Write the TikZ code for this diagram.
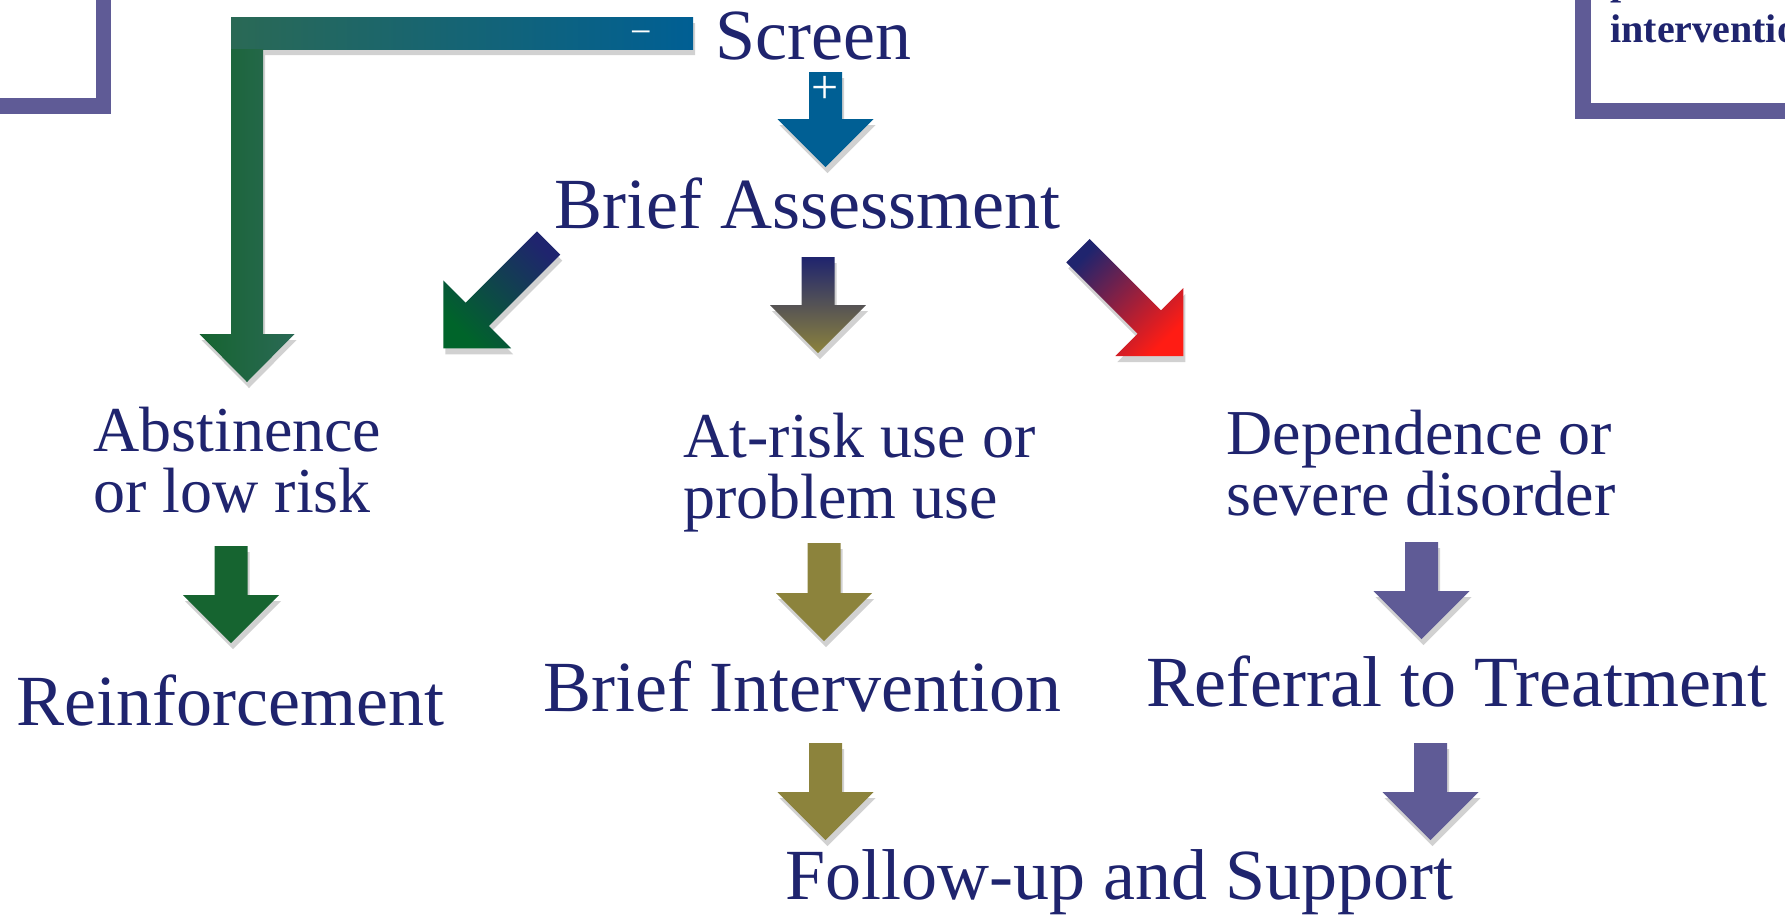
\documentclass[tikz,border=0pt]{standalone}
\usepackage{fontspec}
\setmainfont{Liberation Serif}
\usepackage{tikz}

\definecolor{navy}{RGB}{31,36,110}
\definecolor{frame}{RGB}{95,91,150}
\definecolor{olive}{RGB}{140,131,60}
\definecolor{leaf}{RGB}{22,100,48}
\definecolor{pine}{RGB}{42,105,85}
\definecolor{ocean}{RGB}{0,95,148}
\definecolor{alarm}{RGB}{255,28,20}
\definecolor{moss}{RGB}{0,100,42}

\tikzset{
  stage/.style={anchor=base west, inner sep=0pt, text=navy, font=\fontsize{36}{40}\selectfont},
  group/.style={stage, align=left, font=\fontsize{32}{30.5}\selectfont},
  sign/.style={anchor=base, inner sep=0pt, text=white}
}

% block arrow: tip x, tip y, turn, shaft length, fill
\newcommand{\blockarrow}[5]{%
  \fill[black, opacity=.18, shift={(#1+2,#2+6)}, rotate=#3]
    (0,0) -- (-48,-48) -- (-16.5,-48) -- (-16.5,-48-#4) -- (16.5,-48-#4) -- (16.5,-48) -- (48,-48) -- cycle;
  \path[#5, shift={(#1,#2)}, rotate=#3]
    (0,0) -- (-48,-48) -- (-16.5,-48) -- (-16.5,-48-#4) -- (16.5,-48-#4) -- (16.5,-48) -- (48,-48) -- cycle;
}

\begin{document}
\begin{tikzpicture}[x=0.5pt, y=-0.5pt]
  \useasboundingbox (0,0) rectangle (1785,918);

  % corner frames
  \draw[frame, line width=7.75pt] (103.5,-20) -- (103.5,106) -- (-20,106);
  \draw[frame, line width=8pt] (1582.5,-20) -- (1582.5,111) -- (1805,111);
  \node[anchor=base west, inner sep=0pt, text=navy, align=left,
    font=\bfseries\fontsize{20}{24}\selectfont] (note) at (1610,42) {p\\intervention};

  % bent arrow from screen
  \fill[black, opacity=.18, shift={(2,6)}] (231,17) -- (693,17) -- (693,49) -- (263,49)
    -- (263,334) -- (294.5,334) -- (247,382) -- (199.5,334) -- (231,334) -- cycle;
  \shade[left color=pine, right color=ocean] (231,17) rectangle (693,49);
  \shade[left color=leaf, right color=pine] (231,49) -- (263,49) -- (263,334) -- (294.5,334)
    -- (247,382) -- (199.5,334) -- (231,334) -- cycle;
  \node[sign, font=\fontsize{19}{20}\selectfont] (minus) at (641,44.5) {−};

  \blockarrow{825.5}{167}{0}{47}{fill=ocean}
  \node[sign, font=\fontsize{24}{24}\selectfont] (plus) at (825.5,103) {+};

  % three ways out of the assessment
  \blockarrow{443.3}{348.3}{-45}{101}{top color=navy, bottom color=moss, shading angle=-45}
  \blockarrow{818}{353}{0}{48}{top color=navy, bottom color=olive}
  \blockarrow{1183.3}{356}{45}{101}{top color=navy, bottom color=alarm, shading angle=45}

  \blockarrow{231}{643}{0}{49}{fill=leaf}
  \blockarrow{824}{641}{0}{50}{fill=olive}
  \blockarrow{1421.5}{639}{0}{49}{fill=frame}
  \blockarrow{825.5}{840}{0}{49}{fill=olive}
  \blockarrow{1430.5}{840}{0}{49}{fill=frame}

  \node[stage] (screen) at (715,59) {Screen};
  \node[stage] (assess) at (554,228) {Brief Assessment};

  % the second line sets the base
  \node[group] (low) at (93,512) {Abstinence\\or low risk};
  \node[group] (atrisk) at (683,518) {At-risk use or\\problem use};
  \node[group] (depend) at (1226,515) {Dependence or\\severe disorder};

  \node[stage] (reinf) at (16,725) {Reinforcement};
  \node[stage] (brief) at (543,711) {Brief Intervention};
  \node[stage] (refer) at (1146,706) {Referral to Treatment};
  \node[stage] (follow) at (785,899) {Follow-up and Support};
\end{tikzpicture}
\end{document}
